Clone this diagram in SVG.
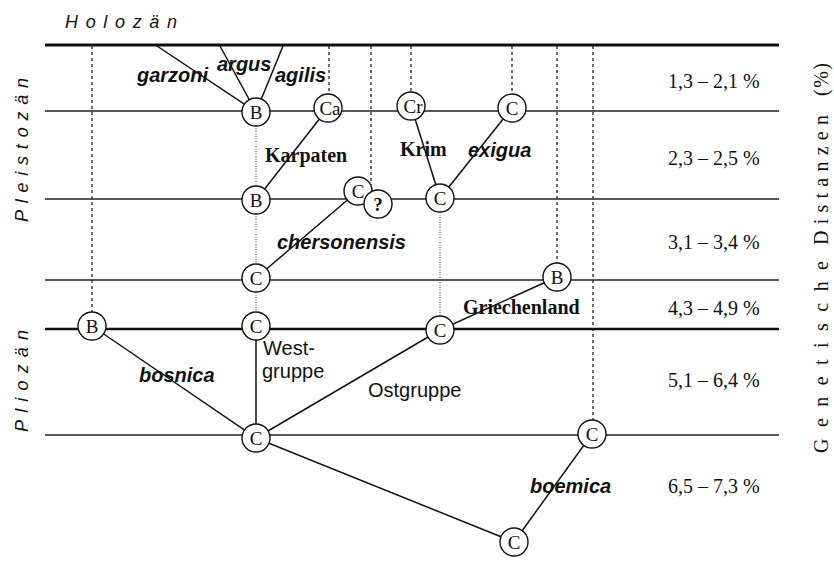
<svg xmlns="http://www.w3.org/2000/svg" width="834" height="563" viewBox="0 0 834 563">
  <style>
    .rule { stroke: #222; stroke-width: 1.3; fill: none; }
    .rule-bold { stroke: #111; stroke-width: 3; fill: none; }
    .rule-mid { stroke: #111; stroke-width: 2.6; fill: none; }
    .dash { stroke: #222; stroke-width: 1.3; stroke-dasharray: 3 3; fill: none; }
    .dot { stroke: #555; stroke-width: 1.1; stroke-dasharray: 1 1.5; fill: none; }
    .edge { stroke: #111; stroke-width: 1.5; fill: none; }
    .node circle { fill: #fff; stroke: #111; stroke-width: 1.4; }
    .node text { font-family: "Liberation Serif", serif; font-size: 19px; fill: #111; text-anchor: middle; }
    .sp { font-family: "Liberation Sans", sans-serif; font-weight: bold; font-style: italic; font-size: 20px; fill: #111; }
    .grp { font-family: "Liberation Serif", serif; font-weight: bold; font-size: 20px; fill: #111; }
    .lbl { font-family: "Liberation Sans", sans-serif; font-size: 20px; fill: #111; }
    .pct { font-family: "Liberation Serif", serif; font-size: 20px; fill: #111; }
    .epoch { font-family: "Liberation Sans", sans-serif; font-style: italic; font-size: 18px; fill: #111; }
    .axis { font-family: "Liberation Serif", serif; font-size: 20px; fill: #111; }
  </style>
  <rect width="834" height="563" fill="#fff"/>

  <!-- time scale: epoch names -->
  <text class="epoch" x="65" y="28" textLength="112" lengthAdjust="spacing">Holozän</text>
  <text class="epoch" transform="translate(28,222) rotate(-90)" textLength="144" lengthAdjust="spacing">Pleistozän</text>
  <text class="epoch" transform="translate(28,432) rotate(-90)" textLength="102" lengthAdjust="spacing">Pliozän</text>

  <!-- vertical axis title, widely spaced -->
  <g id="axis-title">
    <text class="axis" transform="translate(828,453) rotate(-90)" textLength="192" lengthAdjust="spacing">Genetische</text>
    <text class="axis" transform="translate(828,245) rotate(-90)" textLength="130" lengthAdjust="spacing">Distanzen</text>
    <text class="axis" transform="translate(828,96) rotate(-90)" textLength="33" lengthAdjust="spacing">(%)</text>
  </g>

  <!-- horizontal distance levels -->
  <g id="levels">
    <line class="rule-bold" x1="45" y1="45" x2="779" y2="45"/>
    <line class="rule" x1="45" y1="111" x2="779" y2="111"/>
    <line class="rule" x1="45" y1="199" x2="779" y2="199"/>
    <line class="rule" x1="45" y1="280" x2="779" y2="280"/>
    <line class="rule-mid" x1="45" y1="329" x2="779" y2="329"/>
    <line class="rule" x1="45" y1="435" x2="779" y2="435"/>
  </g>

  <!-- percentage ranges -->
  <g id="ranges">
    <text class="pct" x="668" y="88">1,3 – 2,1 %</text>
    <text class="pct" x="668" y="165">2,3 – 2,5 %</text>
    <text class="pct" x="668" y="249">3,1 – 3,4 %</text>
    <text class="pct" x="668" y="315">4,3 – 4,9 %</text>
    <text class="pct" x="668" y="387">5,1 – 6,4 %</text>
    <text class="pct" x="668" y="493">6,5 – 7,3 %</text>
  </g>

  <!-- lineage continuations and branches -->
  <g id="connectors">
    <line class="dash" x1="92" y1="46" x2="92" y2="312"/>
    <line class="dash" x1="329" y1="46" x2="329" y2="94"/>
    <line class="dash" x1="371" y1="46" x2="371" y2="185"/>
    <line class="dash" x1="411" y1="46" x2="411" y2="92"/>
    <line class="dash" x1="512" y1="46" x2="512" y2="94"/>
    <line class="dash" x1="557" y1="46" x2="557" y2="263"/>
    <line class="dash" x1="593" y1="46" x2="593" y2="420"/>

    <line class="dot" x1="256" y1="126" x2="256" y2="186"/>
    <line class="dot" x1="256" y1="214" x2="256" y2="264"/>
    <line class="dot" x1="256" y1="292" x2="256" y2="312"/>
    <line class="dot" x1="440" y1="212" x2="440" y2="316"/>

    <line class="edge" x1="157" y1="46" x2="256" y2="112"/>
    <line class="edge" x1="220" y1="46" x2="256" y2="112"/>
    <line class="edge" x1="283" y1="46" x2="256" y2="112"/>
    <line class="edge" x1="328" y1="108" x2="256" y2="200"/>
    <line class="edge" x1="411" y1="106" x2="440" y2="198"/>
    <line class="edge" x1="512" y1="108" x2="440" y2="198"/>
    <line class="edge" x1="358" y1="191" x2="256" y2="278"/>
    <line class="edge" x1="557" y1="277" x2="440" y2="330"/>
    <line class="edge" x1="92" y1="326" x2="256" y2="438"/>
    <line class="edge" x1="256" y1="326" x2="256" y2="438"/>
    <line class="edge" x1="440" y1="330" x2="256" y2="438"/>
    <line class="edge" x1="256" y1="438" x2="514" y2="542"/>
    <line class="edge" x1="514" y1="542" x2="592" y2="434"/>
  </g>

  <!-- nodes -->
  <g id="n-b-top" class="node"><circle cx="256" cy="112" r="14"/><text x="256" y="118.5">B</text></g>
  <g id="n-ca" class="node"><circle cx="328" cy="108" r="14"/><text x="330" y="114.5">Ca</text></g>
  <g id="n-cr" class="node"><circle cx="411" cy="106" r="14"/><text x="413" y="112.5">Cr</text></g>
  <g id="n-c-exigua" class="node"><circle cx="512" cy="108" r="14"/><text x="512" y="114.5">C</text></g>
  <g id="n-b-karpaten" class="node"><circle cx="256" cy="200" r="14"/><text x="256" y="206.5">B</text></g>
  <g id="n-c-chers" class="node"><circle cx="358" cy="191" r="14"/><text x="358" y="197.5">C</text></g>
  <g id="n-q" class="node"><circle cx="378" cy="204" r="14"/><text x="378" y="210.5" font-weight="bold">?</text></g>
  <g id="n-c-krim" class="node"><circle cx="440" cy="198" r="14"/><text x="440" y="204.5">C</text></g>
  <g id="n-c-3" class="node"><circle cx="256" cy="278" r="14"/><text x="256" y="284.5">C</text></g>
  <g id="n-b-griech" class="node"><circle cx="557" cy="277" r="14"/><text x="557" y="283.5">B</text></g>
  <g id="n-b-bosnica" class="node"><circle cx="92" cy="326" r="14"/><text x="92" y="332.5">B</text></g>
  <g id="n-c-west" class="node"><circle cx="256" cy="326" r="14"/><text x="256" y="332.5">C</text></g>
  <g id="n-c-ost" class="node"><circle cx="440" cy="330" r="14"/><text x="440" y="336.5">C</text></g>
  <g id="n-c-root" class="node"><circle cx="256" cy="438" r="14"/><text x="256" y="444.5">C</text></g>
  <g id="n-c-boem" class="node"><circle cx="592" cy="434" r="14"/><text x="592" y="440.5">C</text></g>
  <g id="n-c-base" class="node"><circle cx="514" cy="542" r="14"/><text x="514" y="548.5">C</text></g>

  <!-- taxon and group labels -->
  <g id="labels">
    <text class="sp" x="137" y="82">garzoni</text>
    <text class="sp" x="217" y="71">argus</text>
    <text class="sp" x="275" y="82">agilis</text>
    <text class="grp" x="265" y="162">Karpaten</text>
    <text class="grp" x="400" y="156">Krim</text>
    <text class="sp" x="468" y="157">exigua</text>
    <text class="sp" x="277" y="249">chersonensis</text>
    <text class="grp" x="463" y="314">Griechenland</text>
    <text class="lbl" x="263" y="355">West-</text>
    <text class="lbl" x="262" y="378">gruppe</text>
    <text class="lbl" x="368" y="397">Ostgruppe</text>
    <text class="sp" x="139" y="382">bosnica</text>
    <text class="sp" x="530" y="493">boemica</text>
  </g>
</svg>
